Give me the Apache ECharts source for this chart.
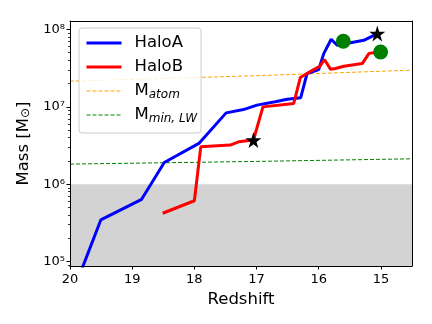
<!DOCTYPE html>
<html>
<head>
<meta charset="utf-8">
<script src="https://cdn.jsdelivr.net/npm/echarts@6/dist/echarts.min.js"></script>
<style>
html, body { margin: 0; padding: 0; background: #fff; }
#chart { width: 432px; height: 324px; }
</style>
</head>
<body>
<div id="chart"></div>
<script>
// halo mass growth vs redshift
const haloAZ = [19.85, 19.505, 18.848, 18.484, 17.92, 17.489, 17.21, 16.994, 16.70, 16.505, 16.29, 16.187, 16.0, 15.919, 15.80, 15.703, 15.274, 15.058]
const haloAM = [6.6e4, 3.46e5, 6.39e5, 1.91e6, 3.4e6, 8.34e6, 9.2e6, 1.05e7, 1.16e7, 1.25e7, 1.31e7, 2.69e7, 3.03e7, 4.86e7, 7.43e7, 6.22e7, 7.21e7, 8.8e7]
const haloBZ = [18.51, 18.0, 17.897, 17.424, 17.29, 17.05, 16.897, 16.403, 16.295, 16.081, 15.984, 15.908, 15.811, 15.731, 15.597, 15.30, 15.194, 15.113, 15.005]
const haloBM = [4.22e5, 6.12e5, 3.04e6, 3.2e6, 3.53e6, 3.72e6, 9.97e6, 1.10e7, 2.39e7, 3.03e7, 3.33e7, 4.07e7, 3.06e7, 3.12e7, 3.33e7, 3.61e7, 4.86e7, 5.0e7, 5.2e7]
const atomZ = [20, 17, 14.5]
const atomM = [2.14e7, 2.52e7, 2.97e7]
const lwZ = [20, 17, 14.5]
const lwM = [1.82e6, 1.97e6, 2.13e6]
const starZ = [17.05, 15.058]
const starM = [3.72e6, 8.8e7]
const circleZ = [15.605, 15.005]
const circleM = [7.0e7, 5.1e7]
// shaded region below this mass
const shadeTop = 1e6

const xTicks = [15, 16, 17, 18, 19, 20]
const yTicks = [1e5, 1e6, 1e7, 1e8]
const yMinorTicks = [9e4,
  2e5, 3e5, 4e5, 5e5, 6e5, 7e5, 8e5, 9e5,
  2e6, 3e6, 4e6, 5e6, 6e6, 7e6, 8e6, 9e6,
  2e7, 3e7, 4e7, 5e7, 6e7, 7e7, 8e7, 9e7]

const xMin = 14.5
const xMax = 20
const yMin = 8.8e4
const yMax = 1.28e8

const font = 'DejaVu Sans'
const zip = (a, b) => a.map((v, i) => [v, b[i]])
const sup = '⁰¹²³⁴⁵⁶⁷⁸⁹'
const powLabel = v => '10' + String(Math.round(Math.log10(v))).split('').map(d => sup[+d]).join('')

const legendNames = {
  HaloA: 'HaloA',
  HaloB: 'HaloB',
  Matom: 'M{sub|atom}',
  MminLW: 'M{sub|min, LW}'
}

const myChart = echarts.init(document.getElementById('chart'), null, { renderer: 'canvas' })
myChart.setOption({
  animation: false,
  grid: { left: 70, right: 20, top: 21, bottom: 58, show: false },
  legend: {
    data: [
      { name: 'HaloA', lineStyle: { width: 3 } },
      { name: 'HaloB', lineStyle: { width: 3 } },
      { name: 'Matom', lineStyle: { width: 1 } },
      { name: 'MminLW', lineStyle: { width: 1 } }
    ],
    orient: 'vertical',
    left: 79,
    top: 28,
    itemWidth: 35,
    itemHeight: 14,
    itemGap: 4,
    padding: [5, 4, 8, 6],
    backgroundColor: 'rgba(255,255,255,0.85)',
    borderColor: '#cccccc',
    borderWidth: 1,
    borderRadius: 3,
    itemStyle: { opacity: 0 }, // 只显示线条，不显示圆点
    formatter: name => legendNames[name],
    textStyle: {
      fontFamily: font,
      fontSize: 16.5,
      color: '#000',
      lineHeight: 20,
      padding: [0, 0, 0, 8],
      rich: {
        sub: { fontFamily: font, fontSize: 12, fontStyle: 'italic', lineHeight: 16, verticalAlign: 'bottom', color: '#000' }
      }
    }
  },
  xAxis: [{
    type: 'value',
    inverse: true,
    min: xMin,
    max: xMax,
    z: 10,
    name: 'Redshift',
    nameLocation: 'middle',
    nameGap: 20,
    nameTextStyle: { fontFamily: font, fontSize: 16.5, color: '#000' },
    axisLine: { onZero: false, lineStyle: { color: '#000', width: 1 } },
    axisTick: { customValues: xTicks, length: 3.5, lineStyle: { color: '#000' } },
    axisLabel: { customValues: xTicks, margin: 7, fontFamily: font, fontSize: 13, color: '#000', formatter: v => String(v) },
    splitLine: { show: false }
  }, {
    // top spine
    type: 'value',
    position: 'top',
    inverse: true,
    min: xMin,
    max: xMax,
    z: 10,
    axisLine: { onZero: false, lineStyle: { color: '#000', width: 1 } },
    axisTick: { show: false },
    axisLabel: { show: false },
    splitLine: { show: false }
  }],
  yAxis: [{
    type: 'log',
    logBase: 10,
    min: yMin,
    max: yMax,
    z: 10,
    name: 'Mass [M{sub|⊙}]',
    nameLocation: 'middle',
    nameGap: 33,
    nameTextStyle: {
      fontFamily: font, fontSize: 16.5, color: '#000',
      rich: { sub: { fontFamily: font, fontSize: 12, lineHeight: 14, verticalAlign: 'bottom', color: '#000' } }
    },
    axisLine: { onZero: false, lineStyle: { color: '#000', width: 1 } },
    axisTick: { customValues: yTicks, length: 3.5, lineStyle: { color: '#000' } },
    axisLabel: { customValues: yTicks, margin: 5, fontFamily: font, fontSize: 13, color: '#000', formatter: powLabel },
    splitLine: { show: false }
  }, {
    // right spine
    type: 'log',
    logBase: 10,
    position: 'right',
    min: yMin,
    max: yMax,
    z: 10,
    axisLine: { onZero: false, lineStyle: { color: '#000', width: 1 } },
    axisTick: { show: false },
    axisLabel: { show: false },
    splitLine: { show: false }
  }, {
    // minor ticks
    type: 'log',
    logBase: 10,
    position: 'left',
    min: yMin,
    max: yMax,
    z: 10,
    axisLine: { show: false, onZero: false },
    axisTick: { customValues: yMinorTicks, length: 2, lineStyle: { color: '#000', width: 0.8 } },
    axisLabel: { show: false },
    splitLine: { show: false }
  }],
  series: [
    {
      name: 'MminLW',
      type: 'line',
      data: zip(lwZ, lwM),
      symbol: 'none',
      z: 2,
      lineStyle: { color: 'green', width: 1, type: [4, 2] },
      itemStyle: { color: 'green' },
      markArea: {
        silent: true,
        z: 1,
        itemStyle: { color: '#d3d3d3' },
        data: [[{ coord: [xMax, yMin] }, { coord: [xMin, shadeTop] }]]
      }
    },
    {
      name: 'Matom',
      type: 'line',
      data: zip(atomZ, atomM),
      symbol: 'none',
      z: 2,
      lineStyle: { color: 'orange', width: 1, type: [4, 2] },
      itemStyle: { color: 'orange' }
    },
    {
      name: 'HaloA',
      type: 'line',
      data: zip(haloAZ, haloAM),
      symbol: 'none',
      z: 3,
      lineStyle: { color: '#0000ff', width: 3 },
      itemStyle: { color: '#0000ff' }
    },
    {
      name: 'HaloB',
      type: 'line',
      data: zip(haloBZ, haloBM),
      symbol: 'none',
      z: 3,
      lineStyle: { color: '#ff0000', width: 3 },
      itemStyle: { color: '#ff0000' }
    },
    {
      name: 'circles',
      type: 'scatter',
      data: zip(circleZ, circleM),
      symbol: 'circle',
      symbolSize: 15,
      z: 4,
      itemStyle: { color: 'green', opacity: 1 }
    },
    {
      name: 'stars',
      type: 'scatter',
      data: zip(starZ, starM),
      symbol: 'path://M50,0 L61.2,34.5 L97.6,34.5 L68.2,55.9 L79.4,90.5 L50,69.1 L20.6,90.5 L31.8,55.9 L2.4,34.5 L38.8,34.5 Z',
      symbolSize: 16,
      z: 5,
      itemStyle: { color: '#000', opacity: 1 }
    }
  ]
})
</script>
</body>
</html>
